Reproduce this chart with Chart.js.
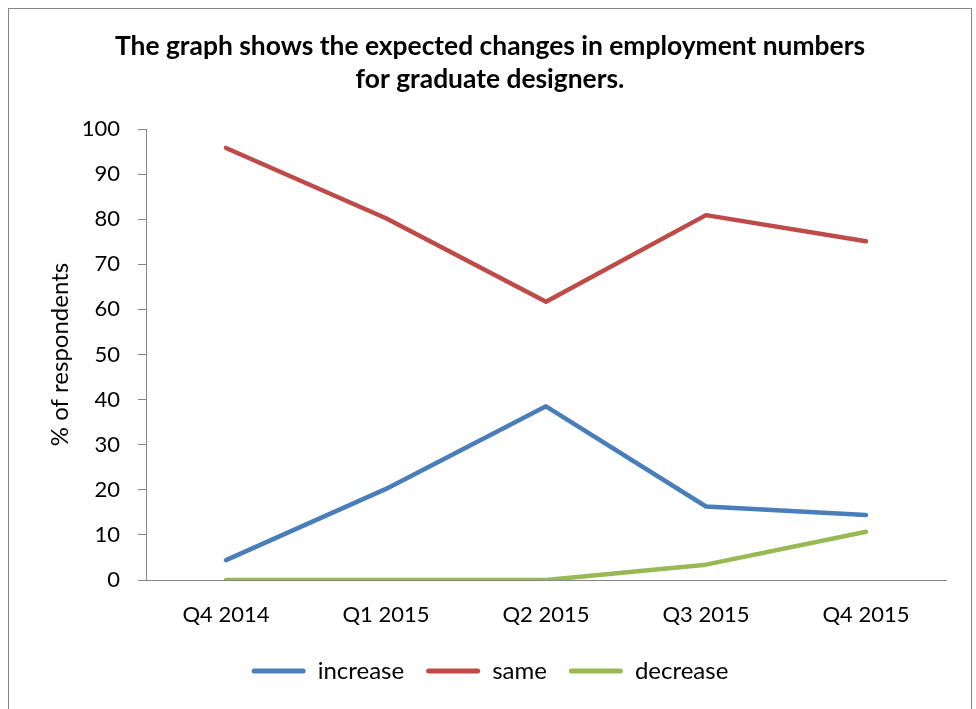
<!DOCTYPE html>
<html>
<head>
<meta charset="utf-8">
<script src="https://cdn.jsdelivr.net/npm/chart.js@4.4.1/dist/chart.umd.min.js"></script>
<style>
  html, body { margin: 0; padding: 0; background: #ffffff; }
  #wrap { width: 976px; height: 709px; position: relative; }
</style>
</head>
<body>
<div id="wrap"><canvas id="c" width="976" height="709"></canvas></div>
<script>
const categories = ["Q4 2014", "Q1 2015", "Q2 2015", "Q3 2015", "Q4 2015"];
const increaseValues = [4.4, 20.2, 38.5, 16.3, 14.4];
const sameValues = [95.8, 80.2, 61.7, 80.9, 75.1];
const decreaseValues = [0, 0, 0, 3.4, 10.7];
const seriesNames = ["increase", "same", "decrease"];
const titleLines = ["The graph shows the expected changes in employment numbers", "for graduate designers."];
const yAxisTitle = "% of respondents";

const FONT = "Lato, 'Open Sans', sans-serif";
const AXIS = "#868686";

const framePlugin = {
  id: 'frame',
  beforeDraw(chart) {
    const ctx = chart.ctx;
    ctx.save();
    ctx.fillStyle = '#ffffff';
    ctx.fillRect(0, 0, chart.width, chart.height);
    ctx.strokeStyle = AXIS;
    ctx.lineWidth = 1;
    ctx.strokeRect(8.5, 8.5, 963, 760);
    ctx.restore();
  }
};

const ds = (label, data, color) => ({
  label, data,
  borderColor: color, backgroundColor: color,
  borderWidth: 4.5, pointRadius: 0, pointHoverRadius: 0,
  tension: 0, fill: false, borderCapStyle: 'round', borderJoinStyle: 'round'
});

new Chart(document.getElementById('c'), {
  type: 'line',
  data: {
    labels: categories,
    datasets: [
      ds(seriesNames[0], increaseValues, '#4A7EBB'),
      ds(seriesNames[1], sameValues, '#BE4B48'),
      ds(seriesNames[2], decreaseValues, '#98B954')
    ]
  },
  plugins: [framePlugin],
  options: {
    responsive: false,
    animation: false,
    layout: { padding: { left: 34, right: 30, top: 0, bottom: 16 } },
    plugins: {
      tooltip: { enabled: false },
      title: {
        display: true,
        text: titleLines,
        color: '#000',
        font: { family: FONT, size: 26.4, weight: 'bold', lineHeight: 1.25 },
        padding: { top: 30, bottom: 33 }
      },
      legend: {
        position: 'bottom',
        labels: {
          color: '#000',
          font: { family: FONT, size: 24 },
          boxWidth: 54,
          boxHeight: 5,
          padding: 22,
          useBorderRadius: true,
          borderRadius: 2.5,
          generateLabels(chart) {
            return chart.data.datasets.map((d, i) => ({
              text: d.label,
              fillStyle: d.borderColor,
              strokeStyle: d.borderColor,
              lineWidth: 0,
              hidden: false,
              datasetIndex: i,
              fontColor: '#000',
              borderRadius: 2.5
            }));
          }
        }
      }
    },
    scales: {
      x: {
        offset: true,
        afterFit(scale) { scale.height = 57; },
        grid: { display: false, drawTicks: false },
        border: { display: true, color: AXIS, width: 1 },
        ticks: { color: '#000', font: { family: FONT, size: 22 }, padding: 22, maxRotation: 0 }
      },
      y: {
        min: 0, max: 100,
        afterFit(scale) { scale.width = 112; },
        grid: { display: true, drawOnChartArea: false, drawTicks: true, tickLength: 8, color: AXIS },
        border: { display: true, color: AXIS, width: 1 },
        ticks: { stepSize: 10, color: '#000', font: { family: FONT, size: 22 }, padding: 18 },
        title: {
          display: true, text: yAxisTitle, color: '#000',
          font: { family: FONT, size: 24 },
          padding: { top: 12, bottom: 0 }
        }
      }
    }
  }
});
</script>
</body>
</html>
